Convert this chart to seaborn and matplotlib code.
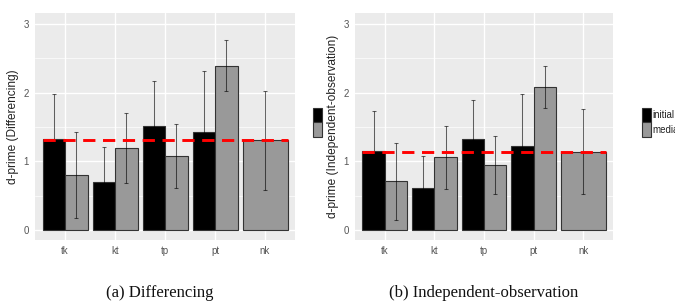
import numpy as np
import pandas as pd
import matplotlib
matplotlib.use("Agg")
import matplotlib.pyplot as plt
from matplotlib.patches import Patch
import seaborn as sns

# data
cats = ["tk", "kt", "tp", "pt", "nk"]
pair_cats = ["tk", "kt", "tp", "pt"]

diff_initial = [1.32, 0.70, 1.52, 1.43]
diff_initial_err = [0.66, 0.51, 0.65, 0.88]
diff_medial = [0.80, 1.19, 1.08, 2.39, 1.31]
diff_medial_err = [0.63, 0.51, 0.47, 0.37, 0.72]
diff_ref = 1.31

indep_initial = [1.155, 0.617, 1.32, 1.22]
indep_initial_err = [0.58, 0.46, 0.57, 0.76]
indep_medial = [0.71, 1.06, 0.95, 2.08, 1.14]
indep_medial_err = [0.56, 0.46, 0.42, 0.31, 0.62]
indep_ref = 1.14

groups = ["initial", "medial"]
colors = {"initial": "#000000", "medial": "#999999"}
captions = ["(a) Differencing", "(b) Independent-observation"]
ylabels = ["d-prime (Differencing)", "d-prime (Independent-observation)"]

sns.set_style("white")
plt.rcParams["font.family"] = ["Liberation Sans", "DejaVu Sans"]

fig = plt.figure(figsize=(6.75, 3.01), dpi=100)
W, H = 675, 301


def panel(rect, initial, initial_err, medial, medial_err, ref, ylabel):
    x0, y0, x1, y1 = rect
    ax = fig.add_axes([x0 / W, 1 - y1 / H, (x1 - x0) / W, (y1 - y0) / H])
    n = len(pair_cats)
    df = pd.DataFrame({
        "cat": pair_cats * 2,
        "group": ["initial"] * n + ["medial"] * n,
        "value": list(initial) + list(medial[:n]),
    })
    sns.barplot(data=df, x="cat", y="value", hue="group", order=cats,
                hue_order=groups, palette=colors, width=0.9, gap=0,
                edgecolor="#333333", linewidth=0.8, errorbar=None,
                legend=False, ax=ax, zorder=3)
    nk = pd.DataFrame({"cat": cats[n:], "value": medial[n:]})
    sns.barplot(data=nk, x="cat", y="value", order=cats, color=colors["medial"],
                saturation=1, width=0.9, edgecolor="#333333", linewidth=0.8,
                errorbar=None, ax=ax, zorder=3)

    errs = [initial_err, medial_err[:n], medial_err[n:]]
    vals = [initial, medial[:n], medial[n:]]
    for cont, v, e in zip(ax.containers, vals, errs):
        xs = [p.get_x() + p.get_width() / 2 for p in cont]
        ax.errorbar(xs, v, yerr=e, fmt="none", ecolor="#000000", alpha=0.6,
                    elinewidth=0.75, capsize=1.6, capthick=0.75, zorder=4)

    ax.hlines(ref, -0.45, 4.45, colors="#FF0000", linewidth=2.1,
              linestyles=(0, (4.2, 2.6)), zorder=5)

    ax.set_xlim(-0.6, 4.6)
    ax.set_ylim(-0.145, 3.16)
    ax.set_facecolor("#EBEBEB")
    for s in ax.spines.values():
        s.set_visible(False)
    ax.set_yticks([0, 1, 2, 3])
    ax.set_yticks([0.5, 1.5, 2.5], minor=True)
    ax.grid(True, which="major", color="white", linewidth=1.0, zorder=0)
    ax.grid(True, which="minor", axis="y", color="white", linewidth=0.5, zorder=0)
    ax.set_axisbelow(True)
    ax.tick_params(axis="both", which="major", length=2.5, width=0.6,
                   color="#333333", labelcolor="#555555", labelsize=7, pad=2)
    ax.tick_params(axis="y", which="minor", length=0)
    ax.set_xlabel("")
    ax.set_ylabel(ylabel, fontsize=8.6, color="#222222", labelpad=3)
    return ax


ax1 = panel((35, 13, 295, 240), diff_initial, diff_initial_err,
            diff_medial, diff_medial_err, diff_ref, ylabels[0])
ax2 = panel((355, 13, 613, 240), indep_initial, indep_initial_err,
            indep_medial, indep_medial_err, indep_ref, ylabels[1])

handles = [Patch(facecolor=colors[g], edgecolor="#333333", linewidth=0.8) for g in groups]
# left legend: its labels are hidden behind the right figure in the reference
fig.legend(handles, ["", ""], loc="upper left", bbox_to_anchor=(313 / W, 1 - 108 / H),
           frameon=False, borderpad=0, borderaxespad=0, handlelength=0.95,
           handleheight=1.9, labelspacing=0, handletextpad=0.1, fontsize=7)
fig.legend(handles, groups, loc="upper left", bbox_to_anchor=(642 / W, 1 - 108 / H),
           frameon=False, borderpad=0, borderaxespad=0, handlelength=0.95,
           handleheight=1.9, labelspacing=0, handletextpad=0.1, fontsize=7,
           labelcolor="#222222")

for cx, txt in zip([160, 484], captions):
    fig.text(cx / W, 4 / H, txt, ha="center", va="baseline",
             family=["Liberation Serif", "DejaVu Serif"], fontsize=12, color="#111111")

fig.savefig("out.png", dpi=100)
